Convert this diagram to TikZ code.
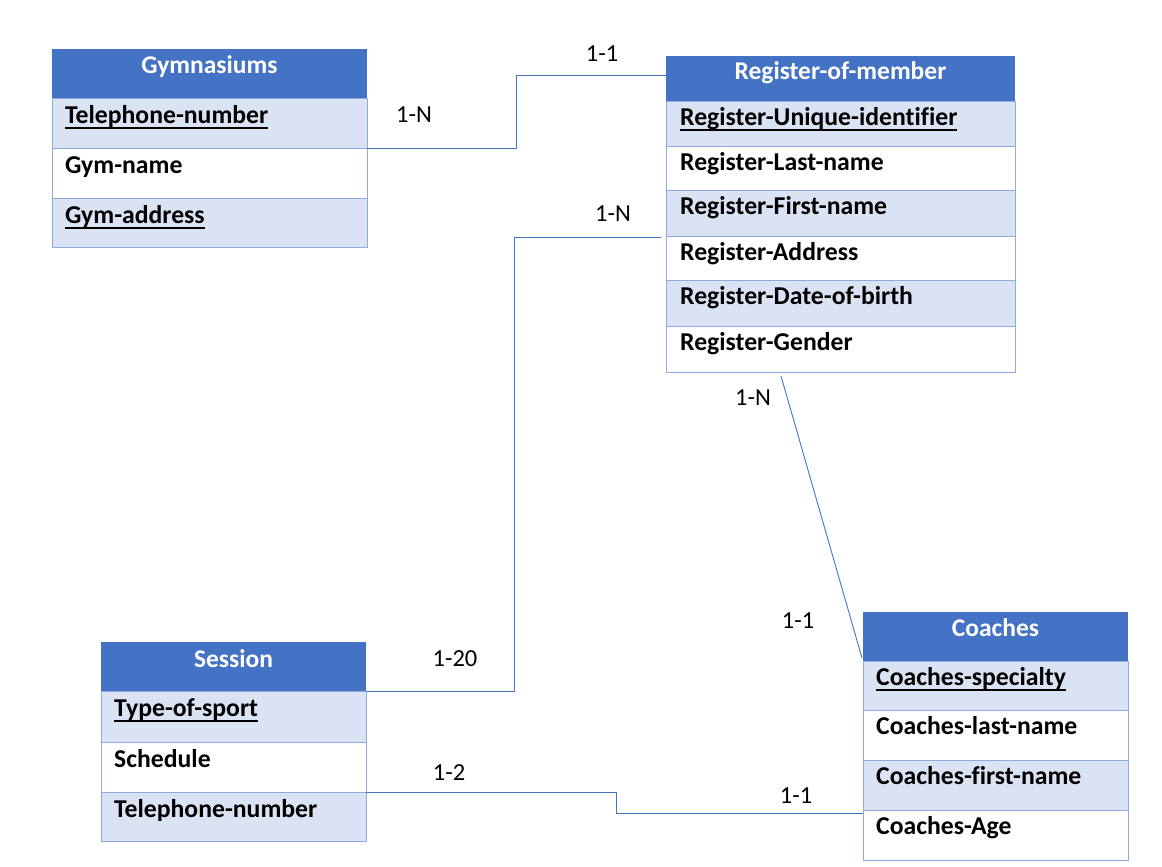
\documentclass[tikz,border=0pt]{standalone}
\usepackage{fontspec}
\setmainfont{Carlito}[Ligatures=NoCommon]
\usetikzlibrary{calc}
\definecolor{hdrblue}{HTML}{4472C4}
\definecolor{rowblue}{HTML}{DAE3F3}
\definecolor{edgeblue}{HTML}{8FAADC}
\definecolor{linkblue}{HTML}{4472C4}
\newsavebox{\myulbox}
\newcommand{\ulk}[1]{\sbox{\myulbox}{#1}\rlap{\rule[-5.6pt]{\wd\myulbox}{1.8pt}}\usebox{\myulbox}}
\tikzset{
  cell/.style={draw=edgeblue, line width=0.9pt, anchor=north west, inner sep=0pt, outer sep=0pt},
  hdrcell/.style={fill=hdrblue, draw=none, anchor=north west, inner sep=0pt, outer sep=0pt},
  hdrtext/.style={text=white, font=\fontsize{25.5}{30}\selectfont\bfseries, anchor=base, inner sep=0pt},
  rowtext/.style={text=black, font=\fontsize{25.7}{30}\selectfont\bfseries, anchor=base west, inner sep=0pt},
  card/.style={text=black, font=\fontsize{24.5}{29}\selectfont, inner sep=0pt},
  link/.style={draw=linkblue, line width=0.9pt}
}
\begin{document}
\begin{tikzpicture}[x=1pt,y=-1pt]
\useasboundingbox (0,0) rectangle (1162,867);
% ---------- Gymnasiums ----------
\node[hdrcell, minimum width=315pt, minimum height=49pt] (gymh) at (52,49) {};
\node[hdrtext] (gymht) at ($(gymh.north)+(0,25)$) {Gymnasiums};
\node[cell, fill=rowblue, minimum width=315pt, minimum height=50pt] (gym1) at (52,98) {};
\node[cell, fill=white, minimum width=315pt, minimum height=50pt] (gym2) at (52,148) {};
\node[cell, fill=rowblue, minimum width=315pt, minimum height=49pt] (gym3) at (52,198) {};
\node[rowtext] (gym1t) at ($(gym1.north west)+(13,25)$) {\ulk{Telephone-number}};
\node[rowtext] (gym2t) at ($(gym2.north west)+(13,25)$) {Gym-name};
\node[rowtext] (gym3t) at ($(gym3.north west)+(13,25)$) {\ulk{Gym-address}};
% ---------- Register-of-member ----------
\node[hdrcell, minimum width=349pt, minimum height=45pt] (regh) at (666,56) {};
\node[hdrtext] (reght) at ($(regh.north)+(0,24)$) {Register-of-member};
\node[cell, fill=rowblue, minimum width=349pt, minimum height=45pt] (reg1) at (666,101) {};
\node[cell, fill=white, minimum width=349pt, minimum height=44pt] (reg2) at (666,146) {};
\node[cell, fill=rowblue, minimum width=349pt, minimum height=46pt] (reg3) at (666,190) {};
\node[cell, fill=white, minimum width=349pt, minimum height=44pt] (reg4) at (666,236) {};
\node[cell, fill=rowblue, minimum width=349pt, minimum height=46pt] (reg5) at (666,280) {};
\node[cell, fill=white, minimum width=349pt, minimum height=46pt] (reg6) at (666,326) {};
\node[rowtext] (reg1t) at ($(reg1.north west)+(14,24)$) {\ulk{Register-Unique-identifier}};
\node[rowtext] (reg2t) at ($(reg2.north west)+(14,24)$) {Register-Last-name};
\node[rowtext] (reg3t) at ($(reg3.north west)+(14,24)$) {Register-First-name};
\node[rowtext] (reg4t) at ($(reg4.north west)+(14,24)$) {Register-Address};
\node[rowtext] (reg5t) at ($(reg5.north west)+(14,24)$) {Register-Date-of-birth};
\node[rowtext] (reg6t) at ($(reg6.north west)+(14,24)$) {Register-Gender};
% ---------- Session ----------
\node[hdrcell, minimum width=265pt, minimum height=49pt] (sesh) at (101,642) {};
\node[hdrtext] (sesht) at ($(sesh.north)+(0,25)$) {Session};
\node[cell, fill=rowblue, minimum width=265pt, minimum height=51pt] (ses1) at (101,691) {};
\node[cell, fill=white, minimum width=265pt, minimum height=50pt] (ses2) at (101,742) {};
\node[cell, fill=rowblue, minimum width=265pt, minimum height=49pt] (ses3) at (101,792) {};
\node[rowtext] (ses1t) at ($(ses1.north west)+(13,25)$) {\ulk{Type-of-sport}};
\node[rowtext] (ses2t) at ($(ses2.north west)+(13,25)$) {Schedule};
\node[rowtext] (ses3t) at ($(ses3.north west)+(13,25)$) {Telephone-number};
% ---------- Coaches ----------
\node[hdrcell, minimum width=265pt, minimum height=49pt] (coah) at (863,612) {};
\node[hdrtext] (coaht) at ($(coah.north)+(0,24)$) {Coaches};
\node[cell, fill=rowblue, minimum width=265pt, minimum height=49pt] (coa1) at (863,661) {};
\node[cell, fill=white, minimum width=265pt, minimum height=50pt] (coa2) at (863,710) {};
\node[cell, fill=rowblue, minimum width=265pt, minimum height=50pt] (coa3) at (863,760) {};
\node[cell, fill=white, minimum width=265pt, minimum height=50pt] (coa4) at (863,810) {};
\node[rowtext] (coa1t) at ($(coa1.north west)+(13,24)$) {\ulk{Coaches-specialty}};
\node[rowtext] (coa2t) at ($(coa2.north west)+(13,24)$) {Coaches-last-name};
\node[rowtext] (coa3t) at ($(coa3.north west)+(13,24)$) {Coaches-first-name};
\node[rowtext] (coa4t) at ($(coa4.north west)+(13,24)$) {Coaches-Age};
% ---------- connectors ----------
\coordinate (c1) at ($(regh.north west)+(0,19)$);
\draw[link] (gym1.south east) -- ++(149,0) |- (c1);
\draw[link] ($(reg3.south west)+(-5,1)$) -- ++(-147,0) |- (ses1.north east);
\draw[link] ($(reg6.south west)+(115,4)$) -- ($(coah.south west)+(-1,-3)$);
\draw[link] (ses3.north east) -- ++(250,0) |- ($(coa3.south west)+(0,3)$);
% ---------- cardinalities ----------
\node[card] (l1) at (414,115) {1-N};
\node[card] (l2) at (602,54) {1-1};
\node[card] (l3) at (613,214) {1-N};
\node[card] (l4) at (455,659) {1-20};
\node[card] (l5) at (753,398) {1-N};
\node[card] (l6) at (798,621) {1-1};
\node[card] (l7) at (449,773) {1-2};
\node[card] (l8) at (796,796) {1-1};
\end{tikzpicture}
\end{document}
